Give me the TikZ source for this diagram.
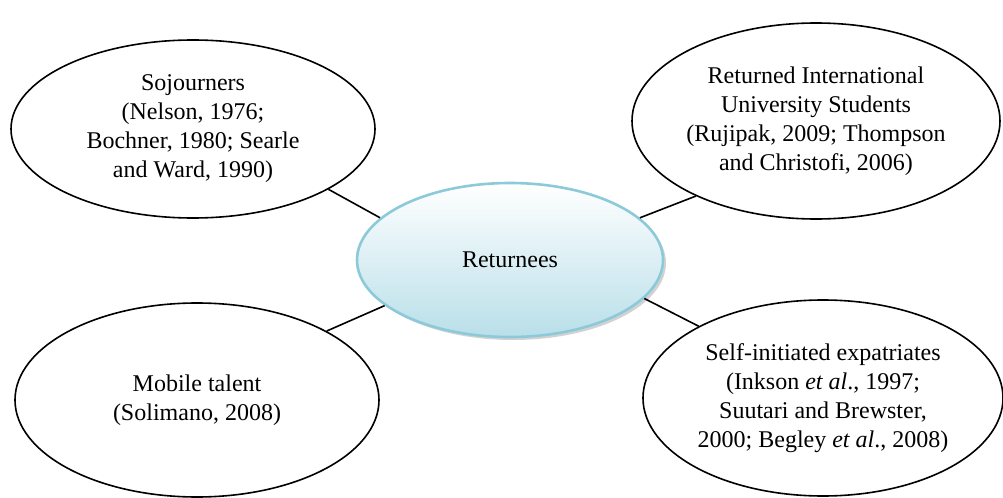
\documentclass[tikz,border=0pt]{standalone}
\usepackage{fontspec}
\setmainfont{Liberation Serif}
\usepackage{tikz}
\usetikzlibrary{shapes.geometric,shadows}

\definecolor{hubline}{HTML}{8CCAD9}
\definecolor{hubfill}{HTML}{B9DFE9}

\begin{document}
\begin{tikzpicture}[x=0.5pt,y=-0.5pt,
                    line width=0.8pt,
                    txt/.style={align=center,font=\fontsize{12}{14.5}\selectfont},
                    leaf/.style n args={2}{ellipse,draw,txt,inner sep=0pt,
                    minimum width=#1pt,minimum height=#2pt},
                    hub/.style={ellipse,txt,inner sep=0pt,
                    minimum width=153pt,minimum height=77pt,
                    draw=hubline,line width=1.3pt,
                    top color=white,bottom color=hubfill,
                    drop shadow={shadow xshift=1.5pt,shadow yshift=-1.5pt,fill=black!35}}]
    \useasboundingbox (0,0) rectangle (1003,498);
    \node[leaf={182}{89}](sojourn) at (193,129) {Sojourners\\(Nelson, 1976;\\Bochner, 1980; Searle\\and Ward, 1990)};
    \node[leaf={184}{98}](students) at (816,121) {Returned International\\University Students\\(Rujipak, 2009; Thompson\\and Christofi, 2006)};
    \node[leaf={182}{97}](talent) at (197,400) {Mobile talent\\(Solimano, 2008)};
    \node[leaf={180}{98}](expat) at (823,398) {Self-initiated expatriates\\(Inkson \textit{et al}., 1997;\\Suutari and Brewster,\\2000; Begley \textit{et al}., 2008)};
    \node[hub](ret) at (510,260) {Returnees};
    \draw (ret.162) -- (sojourn.-24)
          (ret.18) -- (students.-148)
          (ret.-16) -- (expat.150)
          (ret.-160) -- (talent.28);
\end{tikzpicture}
\end{document}
